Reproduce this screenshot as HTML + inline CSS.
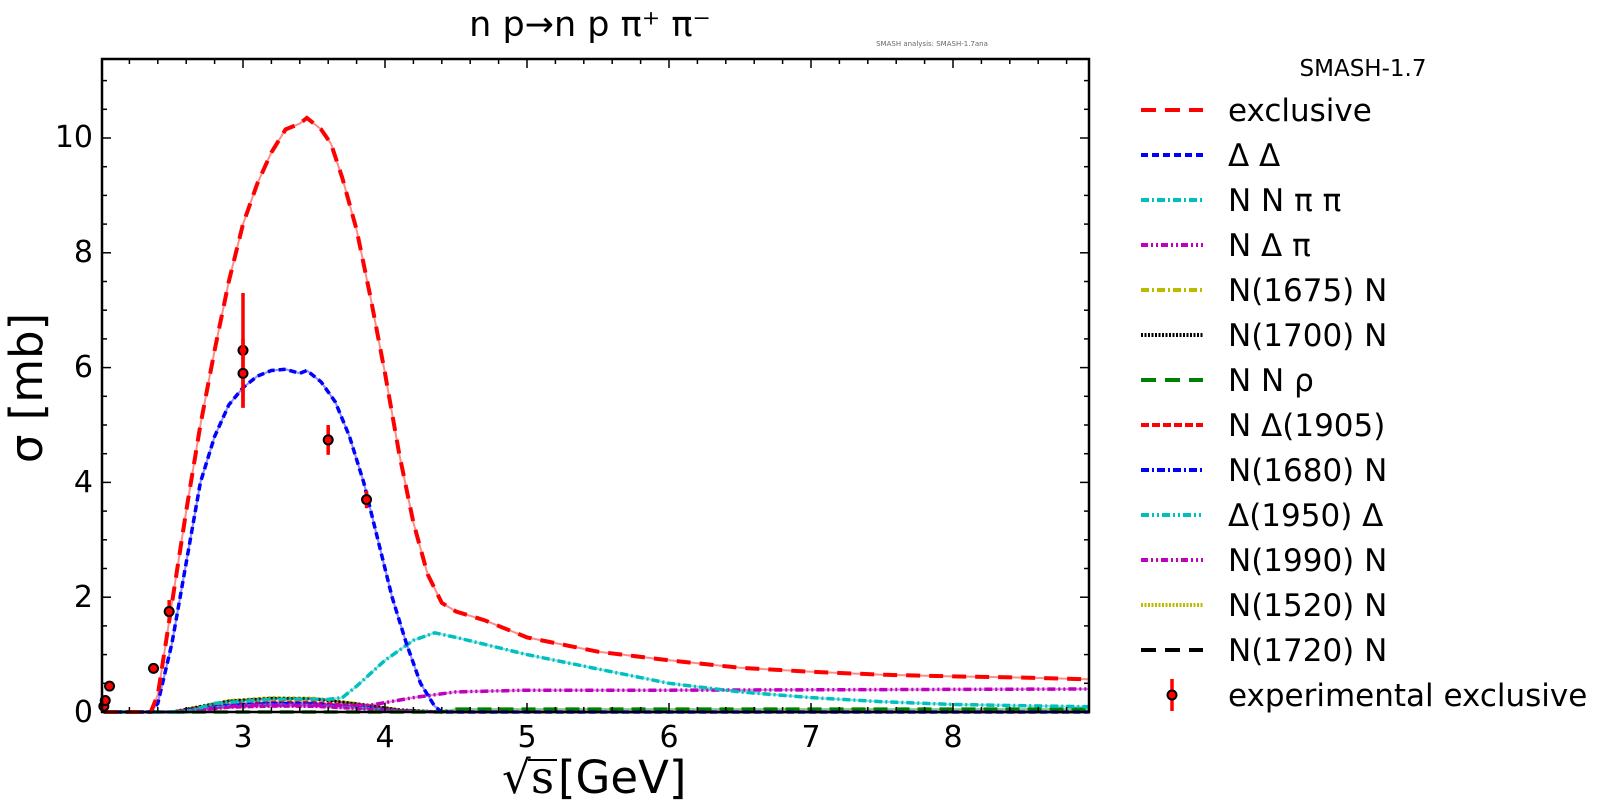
<!DOCTYPE html>
<html><head><meta charset="utf-8"><style>
html,body{margin:0;padding:0;background:#fff;}
svg{display:block;font-family:"DejaVu Sans","Liberation Sans",sans-serif;}
</style></head><body>
<svg id="s" width="1600" height="811" viewBox="0 0 1600 811" xmlns="http://www.w3.org/2000/svg">
<rect width="1600" height="811" fill="#fff"/>
<g id="curves"></g>
<g id="ticks" stroke="#000" stroke-width="1.5"></g>
<rect x="102" y="59" width="987" height="653" fill="none" stroke="#000" stroke-width="2.5"/>
<g font-size="30" fill="#000" text-anchor="end">
<text x="93" y="722">0</text><text x="93" y="607">2</text><text x="93" y="492">4</text>
<text x="93" y="377">6</text><text x="93" y="262">8</text><text x="93" y="147">10</text>
</g>
<g font-size="30" fill="#000" text-anchor="middle">
<text x="243" y="747">3</text><text x="385" y="747">4</text><text x="527" y="747">5</text>
<text x="669" y="747">6</text><text x="811" y="747">7</text><text x="953" y="747">8</text>
</g>
<text x="502" y="793" font-size="45" font-family="DejaVu Serif,Liberation Serif,serif">√</text>
<line x1="528" y1="760" x2="557" y2="760" stroke="#000" stroke-width="2"/>
<text x="531" y="793" font-size="45" font-family="DejaVu Serif,Liberation Serif,serif">s</text>
<text x="558" y="793" font-size="45">[GeV]</text>
<text transform="translate(42,388) rotate(-90)" font-size="45" text-anchor="middle">σ [mb]</text>
<text x="590" y="36" font-size="35" text-anchor="middle">n p→n p π⁺ π⁻</text>
<text x="932" y="46" font-size="7" fill="#666" text-anchor="middle">SMASH analysis: SMASH-1.7ana</text>
<g id="legend" font-size="31"></g>
</svg>
<script>
const X=v=>243+(v-3)*142, Y=v=>712-v*57.4;
const NS="http://www.w3.org/2000/svg";
function el(p,t,a){const e=document.createElementNS(NS,t);for(const k in a)e.setAttribute(k,a[k]);p.appendChild(e);return e;}
const T=document.getElementById('ticks');
for(let v=2.2;v<8.96;v+=0.2){const x=X(v);const maj=Math.abs(v-Math.round(v))<0.01;const L=maj?9:5;
 el(T,'line',{x1:x,y1:712,x2:x,y2:712-L});el(T,'line',{x1:x,y1:59,x2:x,y2:59+L});}
for(let v=0.5;v<11.38;v+=0.5){const y=Y(v);const maj=Math.abs(v/2-Math.round(v/2))<0.01;const L=maj?9:5;
 el(T,'line',{x1:102,y1:y,x2:102+L,y2:y});el(T,'line',{x1:1089,y1:y,x2:1089-L,y2:y});}
const C=document.getElementById('curves');
function curve(d,col,dash,w){const pts=d.map(p=>X(p[0]).toFixed(1)+','+Y(p[1]).toFixed(1)).join(' ');
 el(C,'polyline',{points:pts,fill:'none',stroke:col,'stroke-width':2,'stroke-opacity':0.45});
 el(C,'polyline',{points:pts,fill:'none',stroke:col,'stroke-width':w||3.5,'stroke-dasharray':dash});}
const excl=[[2.02,0],[2.35,0],[2.4,0.3],[2.5,1.9],[2.6,3.5],[2.7,5.0],[2.8,6.3],[2.9,7.5],[3.0,8.5],[3.1,9.2],[3.2,9.75],[3.3,10.15],[3.4,10.25],[3.45,10.35],[3.55,10.15],[3.62,9.9],[3.7,9.3],[3.8,8.4],[3.9,7.2],[4.0,5.9],[4.1,4.5],[4.2,3.3],[4.3,2.4],[4.4,1.9],[4.5,1.75],[4.7,1.6],[5,1.3],[5.5,1.05],[6,0.9],[6.5,0.77],[7,0.7],[7.5,0.65],[8,0.62],[8.5,0.6],[8.96,0.57]];
const dd=[[2.02,0],[2.35,0],[2.4,0.15],[2.5,1.2],[2.6,2.6],[2.7,4.0],[2.8,4.8],[2.9,5.35],[3.0,5.65],[3.1,5.85],[3.2,5.95],[3.3,5.97],[3.4,5.9],[3.45,5.95],[3.55,5.75],[3.65,5.4],[3.75,4.8],[3.85,4.0],[3.95,3.0],[4.05,2.0],[4.15,1.2],[4.25,0.5],[4.35,0.1],[4.4,0],[8.96,0]];
const nnpp=[[2.02,0],[2.6,0],[2.8,0.15],[3.2,0.22],[3.6,0.22],[3.7,0.25],[3.8,0.45],[4.0,0.9],[4.2,1.25],[4.35,1.38],[4.5,1.3],[5,1.0],[5.5,0.75],[6,0.5],[6.5,0.35],[7,0.25],[7.5,0.18],[8,0.13],[8.96,0.09]];
const ndp=[[2.02,0],[2.6,0],[3.0,0.12],[3.5,0.12],[3.9,0.12],[4.2,0.25],[4.5,0.35],[5,0.38],[6,0.38],[8.96,0.4]];
const bump=(a)=>[[2.02,0],[2.5,0],[2.7,0.1*a],[2.9,0.2*a],[3.2,0.25*a],[3.5,0.24*a],[3.8,0.15*a],[4.1,0.04*a],[4.4,0],[8.96,0]];
curve(bump(1),'#bbbb00','3 2',3);curve(bump(0.95),'#000','2 2',3);curve(bump(0.7),'#ff0000','5 3',3);
curve(bump(0.6),'#0000ff','6 2 2 2',3);curve(bump(0.5),'#00bbbb','6 2 2 2 2 2',3);curve(bump(0.4),'#bf00bf','6 2 2 2',3);
curve([[2.02,0],[4.4,0],[4.5,0.05],[8.96,0.05]],'#008000','14 8',3.5);
curve(ndp,'#bf00bf','8 3 2 3 2 3',3.5);
curve(nnpp,'#00bfbf','8 3 2 3',3.5);
curve(dd,'#0000ff','7 4',3.5);
curve(excl,'#ff0000','14 9',4);
const pts=[[2.02,0.1,0],[2.03,0.2,0],[2.06,0.45,0],[2.37,0.76,0],[2.48,1.75,0.2],[3.0,6.3,1.0],[3.0,5.9,0.6],[3.6,4.74,0.26],[3.87,3.7,0.15]];
pts.forEach(p=>{if(p[2])el(C,'line',{x1:X(p[0]),x2:X(p[0]),y1:Y(p[1]-p[2]),y2:Y(p[1]+p[2]),stroke:'#f00','stroke-width':3.5});
 el(C,'circle',{cx:X(p[0]),cy:Y(p[1]),r:4.5,fill:'#f00',stroke:'#000','stroke-width':2});});
const L=document.getElementById('legend');
const t=el(L,'text',{x:1363,y:76,'text-anchor':'middle','font-size':23});t.textContent='SMASH-1.7';
const items=[['exclusive','#ff0000','15 9',4],['Δ Δ','#0000ff','7 4',4],['N N π π','#00bfbf','8 3 2 3',4],['N Δ π','#bf00bf','7 3 2 3 2 3',4],['N(1675) N','#bbbb00','8 3 2 3',4],['N(1700) N','#000','2 1.5',4],['N N ρ','#008000','15 9',4],['N Δ(1905)','#ff0000','8 3',4],['N(1680) N','#0000ff','8 3 2 3',4],['Δ(1950) Δ','#00bfbf','8 3 2 3 2 3',4],['N(1990) N','#bf00bf','7 3 2 3 2 3',4],['N(1520) N','#bbbb00','2 1.5',4],['N(1720) N','#000','15 9',4]];
items.forEach((it,i)=>{const y=110+i*45;
 el(L,'line',{x1:1141,x2:1203,y1:y,y2:y,stroke:it[1],'stroke-width':it[3],'stroke-dasharray':it[2]});
 const tx=el(L,'text',{x:1228,y:y+11});tx.textContent=it[0];});
const ye=110+13*45;
el(L,'line',{x1:1172,x2:1172,y1:ye-16,y2:ye+16,stroke:'#f00','stroke-width':3.5});
el(L,'circle',{cx:1172,cy:ye,r:4.5,fill:'#f00',stroke:'#000','stroke-width':2});
const te=el(L,'text',{x:1228,y:ye+11});te.textContent='experimental exclusive';
</script>
</body></html>
